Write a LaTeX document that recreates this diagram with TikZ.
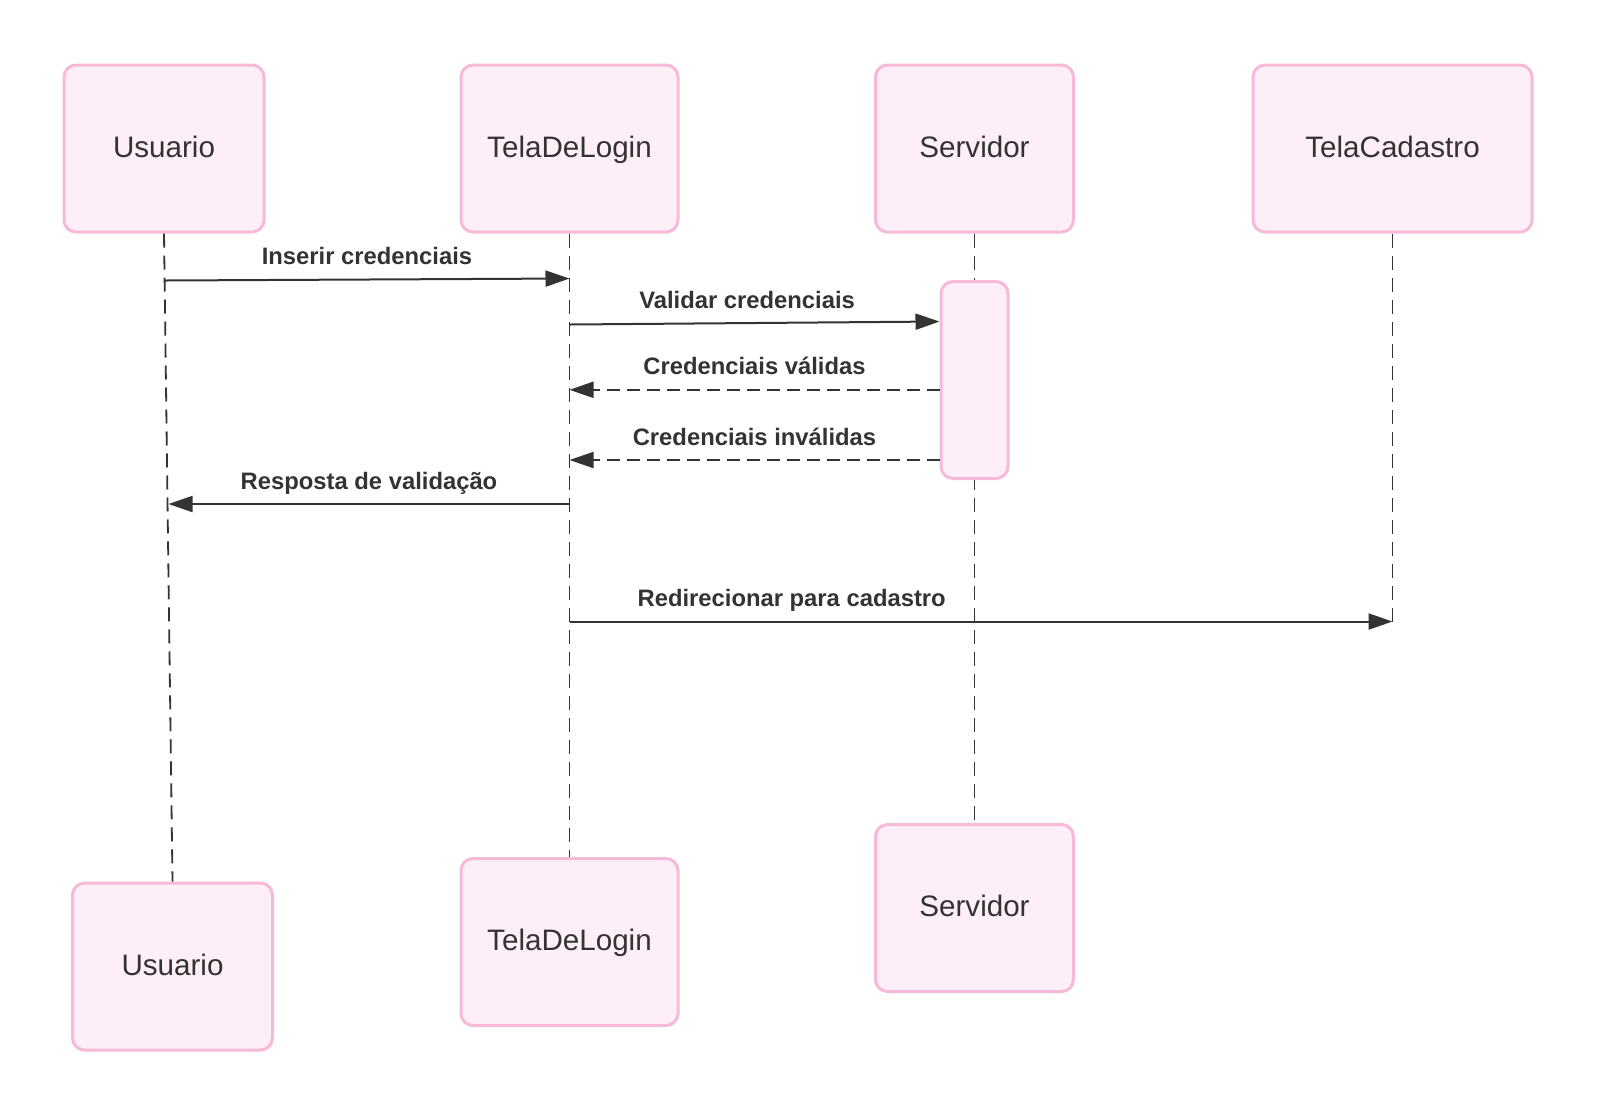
\documentclass[tikz,border=0pt]{standalone}
\usepackage{fontspec}
\setmainfont{Liberation Sans}
\usetikzlibrary{positioning,arrows.meta,calc}
\definecolor{boxfill}{HTML}{FDEEF8}
\definecolor{boxline}{HTML}{F7BAD6}
\definecolor{ink}{HTML}{333333}

\begin{document}
\begin{tikzpicture}[x=0.5pt, y=-0.5pt, >={Triangle[length=12pt,width=8pt]},
  obj/.style={draw=boxline, fill=boxfill, line width=1.5pt, rounded corners=6pt, minimum width=#1, minimum height=83.5pt, text=ink, text height=10.5pt, text depth=1.8pt, font=\fontsize{14.8}{17}\selectfont},
  act/.style={draw=boxline, fill=boxfill, line width=1.5pt, rounded corners=6pt, minimum width=33.5pt, minimum height=98.5pt},
  life/.style={draw=ink, line width=0.9pt, dash pattern=on 7pt off 4pt},
  msg/.style={draw=ink, line width=1pt, ->},
  reply/.style={msg, dash pattern=on 6.5pt off 3.5pt},
  lbl/.style={text=ink, font=\bfseries\fontsize{11.9}{14}\selectfont, inner sep=0pt, text depth=2.5pt, above=4.5pt}]
\useasboundingbox (0,0) rectangle (1600,1116);
% participants
\node[obj=100pt] (uTop) at (164,148.5) {Usuario};
\node[obj=108.5pt] (lTop) at (569.5,148.5) {TelaDeLogin};
\node[obj=99pt] (sTop) at (974.5,148.5) {Servidor};
\node[obj=139.5pt] (cTop) at (1392.5,148.5) {TelaCadastro};
\node[obj=100pt] (uBot) at (172.5,966.5) {Usuario};
\node[obj=108.5pt] (lBot) at (569.5,942) {TelaDeLogin};
\node[obj=99pt] (sBot) at (974.5,908) {Servidor};
\coordinate (cEnd) at (1392.5,621.5);
% lifelines
\draw[life] (uTop.south) -- (uBot.north);
\draw[life] (lTop.south) -- (lBot.north);
\draw[life] (sTop.south) -- (sBot.north);
\draw[life] (cTop.south) -- (cEnd);
\node[act] (sAct) at (974.5,380) {};
% message ends
\coordinate (u1) at (164.5,280.5); \coordinate (l1) at (569.5,278.5);
\coordinate (l2) at (569.5,324.5); \coordinate (s2) at (sAct.west |- 0,321.5);
\coordinate (s3) at (sAct.west |- 0,389.8); \coordinate (l3) at (569.5,389.8);
\coordinate (s4) at (sAct.west |- 0,460); \coordinate (l4) at (569.5,460);
\coordinate (l5) at (569.5,504); \coordinate (u5) at (168.5,504);
\coordinate (l6) at (569.5,621.5);
% messages
\draw[msg] (u1) -- node[lbl]{Inserir credenciais} (l1);
\draw[msg] (l2) -- node[lbl, pos=0.48]{Validar credenciais} (s2);
\draw[reply] (s3) -- node[lbl]{Credenciais válidas} (l3);
\draw[reply] (s4) -- node[lbl]{Credenciais inválidas} (l4);
\draw[msg] (l5) -- node[lbl]{Resposta de validação} (u5);
\draw[msg] (l6) -- node[lbl, pos=0.27]{Redirecionar para cadastro} (cEnd);
\end{tikzpicture}
\end{document}
